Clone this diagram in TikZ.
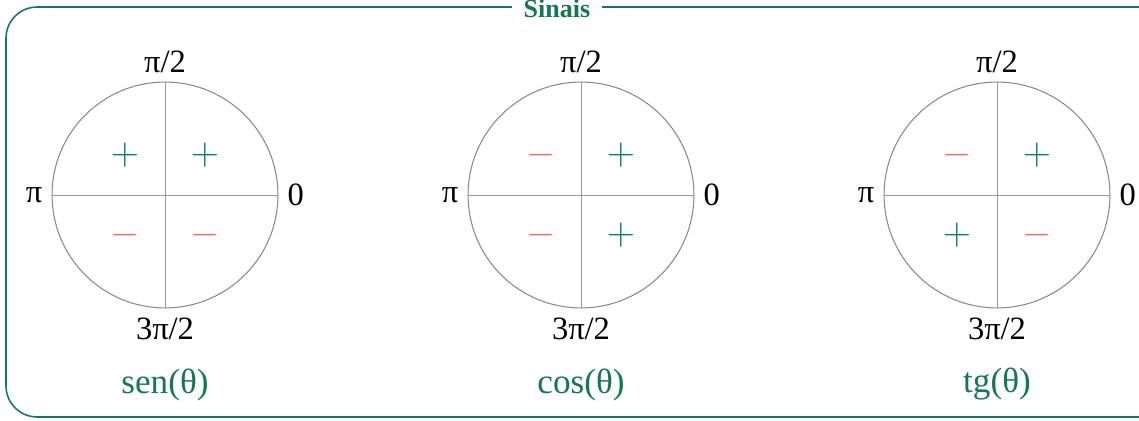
\documentclass[tikz,border=0pt]{standalone}
\usepackage{fontspec}
\setmainfont{Liberation Serif}
\usetikzlibrary{positioning}
\definecolor{verde}{RGB}{20,120,80}
\definecolor{vermelho}{RGB}{240,110,90}
\definecolor{cinza}{RGB}{135,135,135}

\begin{document}
\begin{tikzpicture}[x=0.0135cm, y=0.0135cm,
    roda/.style={circle, draw=cinza, line width=0.4pt, minimum size=86.8pt, inner sep=0pt},
    eixo/.style={cinza!85, line width=0.35pt},
    rotulo/.style={font=\fontsize{12.5}{14}\selectfont},
    mais/.style={text=verde, font=\fontsize{14}{14}\selectfont, node contents={$+$}},
    menos/.style={text=vermelho, font=\fontsize{14}{14}\selectfont, node contents={$-$}},
    funcao/.style={text=verde, font=\fontsize{13.5}{15}\selectfont}]
    \useasboundingbox (0,0) rectangle (1139,420);

    % frame and title
    \draw[verde, line width=0.6pt, rounded corners=12] (6,3) rectangle (1170,413);
    \node[fill=white, text=verde, font=\bfseries\fontsize{10}{12}\selectfont, inner xsep=4.6pt] (titulo) at (557,411) {Sinais};

    % the three circles
    \foreach \c/\x/\f/\qa/\qb/\qc/\qd in {sen/165/sen/mais/mais/menos/menos,
                                         cos/581/cos/mais/menos/menos/mais,
                                         tg/997/tg/mais/menos/mais/menos} {
        \node[roda] (\c) at (\x,225) {};
        \draw[eixo] (\c.west) -- (\c.east);
        \draw[eixo] (\c.north) -- (\c.south);
        \node[rotulo, above] (\c-n) at (\c.north) {π/2};
        \node[rotulo, below] (\c-s) at (\c.south) {3π/2};
        \node[rotulo, left] (\c-w) at (\c.west) {π};
        \node[rotulo, right] (\c-e) at (\c.east) {0};
        % signs per quadrant
        \node (\c-q1) at ([shift={(40,40)}]\c.center) [\qa];
        \node (\c-q2) at ([shift={(-40,40)}]\c.center) [\qb];
        \node (\c-q3) at ([shift={(-40,-40)}]\c.center) [\qc];
        \node (\c-q4) at ([shift={(40,-40)}]\c.center) [\qd];
        \node[funcao] (\c-f) at ([shift={(0,-76)}]\c.south) {\f(θ)};
    }
\end{tikzpicture}
\end{document}
